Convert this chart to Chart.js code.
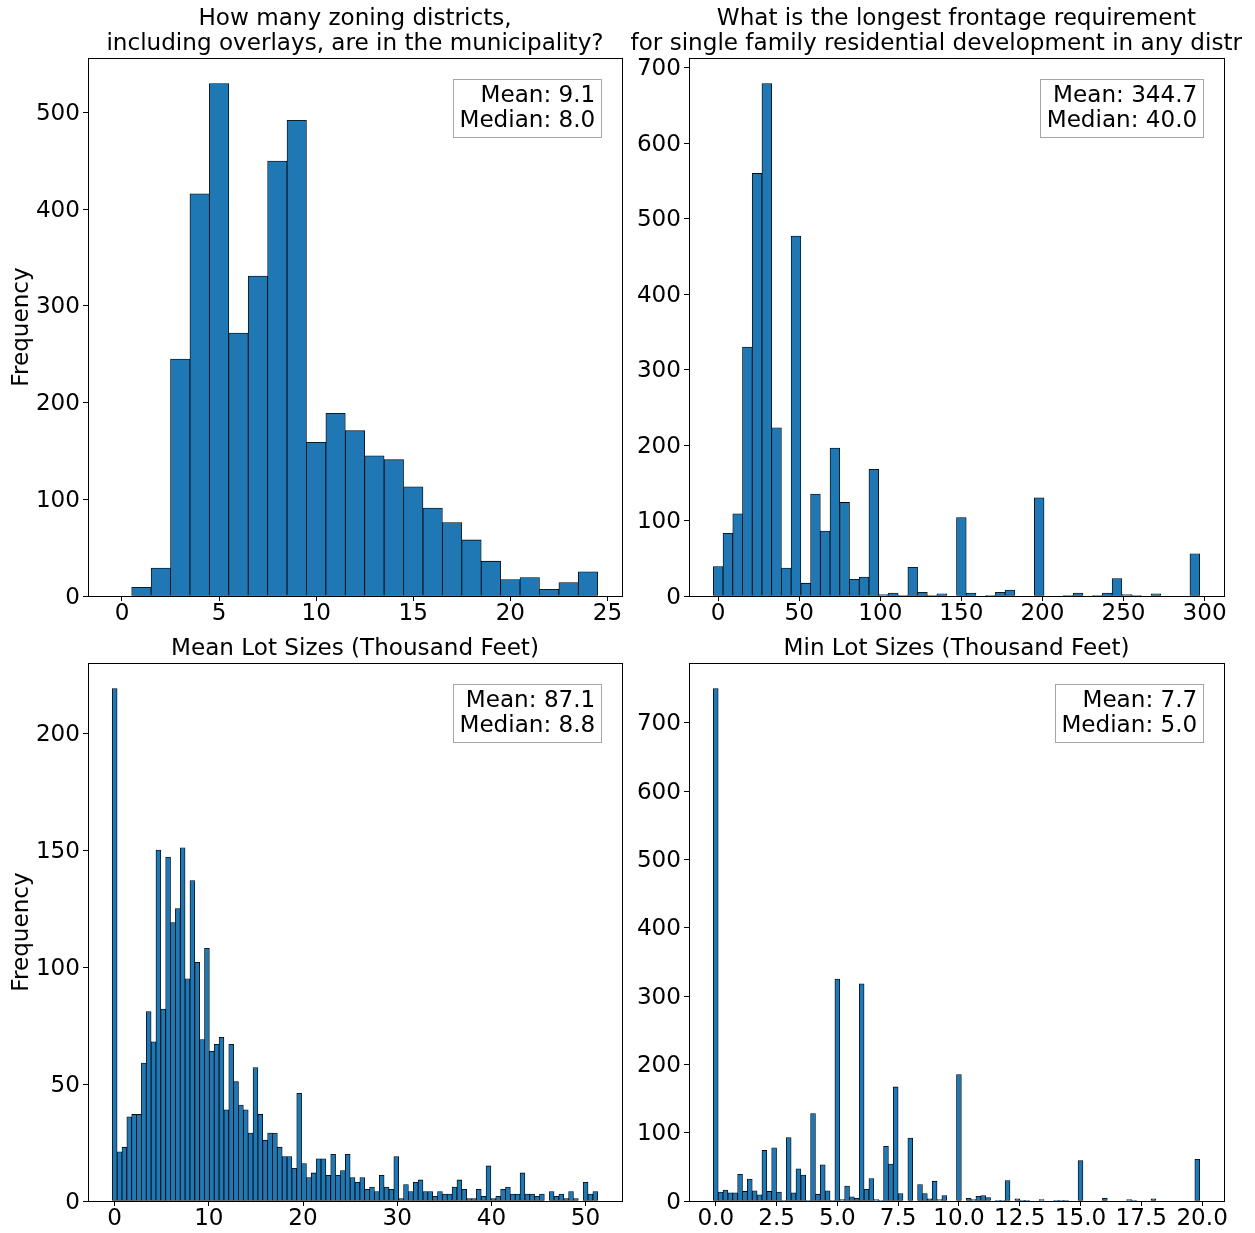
<!DOCTYPE html>
<html>
<head>
<meta charset="utf-8">
<title>Zoning histograms</title>
<script src="https://cdn.jsdelivr.net/npm/chart.js@4.4.1/dist/chart.umd.min.js"></script>
<style>
    html, body { margin: 0; padding: 0; background: #fff; }
    body { width: 1255px; height: 1233px; position: relative; overflow: hidden; }
    canvas { position: absolute; }
</style>
</head>
<body>
<canvas id="districtsChart" width="627" height="625" style="left:0px;top:0px"></canvas>
<canvas id="frontageChart" width="630" height="625" style="left:625px;top:0px"></canvas>
<canvas id="meanLotChart" width="627" height="608" style="left:0px;top:625px"></canvas>
<canvas id="minLotChart" width="630" height="608" style="left:625px;top:625px"></canvas>
<script>
// histogram counts, one per bin; bars sit centred on the left edge of their bin
const districtBinStart = 0;
const districtBinWidth = 1;
const districtCounts = [0, 9, 29, 245, 416, 530, 272, 331, 450, 492, 159, 189, 171, 145, 141,
    113, 91, 76, 58, 36, 17, 19, 7, 14, 25];
const districtTicksX = [0, 5, 10, 15, 20, 25];
const districtTicksY = [0, 100, 200, 300, 400, 500];
const districtStats = ['Mean: 9.1', 'Median: 8.0'];

const frontageBinStart = 0;
const frontageBinWidth = 6;
const frontageCounts = [39, 83, 109, 330, 560, 679, 223, 37, 477, 17,
    135, 86, 196, 124, 22, 25, 168, 2, 4, 1,
    38, 5, 1, 3, 0, 104, 4, 0, 1, 5,
    8, 0, 0, 130, 0, 0, 1, 4, 0, 1,
    4, 23, 2, 1, 0, 3, 0, 0, 0, 56];
const frontageTicksX = [0, 50, 100, 150, 200, 250, 300];
const frontageTicksY = [0, 100, 200, 300, 400, 500, 600, 700];
const frontageStats = ['Mean: 344.7', 'Median: 40.0'];

const meanLotBinStart = 0;
const meanLotBinWidth = 0.5155;
const meanLotCounts = [219, 21, 23, 36, 37, 37, 59, 81, 68, 150,
    82, 147, 119, 125, 151, 95, 137, 102, 69, 108,
    64, 67, 70, 39, 67, 51, 41, 39, 29, 57,
    37, 26, 29, 29, 23, 19, 19, 14, 46, 16,
    10, 12, 18, 18, 11, 20, 11, 13, 20, 10,
    8, 10, 5, 6, 4, 11, 6, 5, 19, 1,
    7, 4, 8, 9, 4, 4, 2, 4, 3, 3,
    6, 9, 5, 1, 1, 5, 2, 15, 1, 2,
    5, 6, 3, 3, 12, 3, 3, 2, 3, 0,
    4, 2, 3, 1, 4, 1, 0, 8, 3, 4];
const meanLotTicksX = [0, 10, 20, 30, 40, 50];
const meanLotTicksY = [0, 50, 100, 150, 200];
const meanLotStats = ['Mean: 87.1', 'Median: 8.8'];

const minLotBinStart = 0;
const minLotBinWidth = 0.2;
const minLotCounts = [750, 13, 16, 12, 12, 39, 14, 32, 15, 9,
    74, 14, 78, 13, 1, 93, 12, 47, 38, 1,
    128, 10, 53, 15, 1, 325, 2, 22, 6, 4,
    318, 17, 33, 2, 1, 80, 54, 167, 11, 0,
    92, 0, 24, 11, 3, 29, 2, 8, 0, 0,
    185, 0, 4, 2, 7, 8, 5, 0, 1, 1,
    30, 0, 3, 1, 1, 0, 0, 2, 0, 0,
    1, 1, 1, 0, 0, 59, 0, 0, 0, 0,
    4, 0, 0, 0, 0, 2, 1, 0, 0, 0,
    3, 0, 0, 0, 0, 0, 0, 0, 0, 61];
const minLotTicksX = [0, 2.5, 5, 7.5, 10, 12.5, 15, 17.5, 20];
const minLotTicksY = [0, 100, 200, 300, 400, 500, 600, 700];
const minLotStats = ['Mean: 7.7', 'Median: 5.0'];

const barBlue = '#1f77b4';
const fontFamily = '"DejaVu Sans", sans-serif';
const fontSize = 23.1;

// titles, stats box and the closed axes frame, matplotlib style
const panelDecor = {
    id: 'panelDecor',
    afterDatasetsDraw(chart) {
        const {ctx, chartArea: a} = chart;
        const px = v => Math.round(v - 0.5) + 0.5;
        ctx.save();
        ctx.strokeStyle = '#000';
        ctx.lineWidth = 1;
        ctx.strokeRect(px(a.left), px(a.top), px(a.right) - px(a.left), px(a.bottom) - px(a.top));
        ctx.restore();
    },
    afterDraw(chart, args, opts) {
        const {ctx, chartArea: a} = chart;
        ctx.save();
        ctx.font = fontSize + 'px ' + fontFamily;
        ctx.fillStyle = '#000';
        ctx.textBaseline = 'alphabetic';

        // title, last line sits just above the frame
        const cx = (a.left + a.right) / 2;
        const lines = opts.title || [];
        let y = a.top - 8 - (lines.length - 1) * 24.7;
        lines.forEach((line, i) => {
            if (opts.titleTail && i === lines.length - 1) {
                // the reference cuts this line short; keep it where the full line would start
                const full = ctx.measureText(line).width + ctx.measureText(opts.titleTail).width;
                ctx.textAlign = 'left';
                ctx.fillText(line, cx - full / 2, y);
            } else {
                ctx.textAlign = 'center';
                ctx.fillText(line, cx, y);
            }
            y += 24.7;
        });

        // stats box in the upper right corner
        const stats = opts.stats || [];
        if (stats.length) {
            const textRight = a.right - 0.05 * (a.right - a.left);
            const textTop = a.top + 0.05 * (a.bottom - a.top);
            const maxW = Math.max(...stats.map(s => ctx.measureText(s).width));
            const boxL = Math.round(textRight - maxW - 6.5) + 0.5;
            const boxR = Math.round(textRight + 5.5) + 0.5;
            const boxT = Math.round(textTop - 5.5) + 0.5;
            const boxB = Math.round(textTop + 52.5) + 0.5;
            ctx.fillStyle = '#fff';
            ctx.fillRect(boxL, boxT, boxR - boxL, boxB - boxT);
            ctx.strokeStyle = 'rgba(0,0,0,0.35)';
            ctx.lineWidth = 1;
            ctx.strokeRect(boxL, boxT, boxR - boxL, boxB - boxT);
            ctx.fillStyle = '#000';
            ctx.textAlign = 'right';
            stats.forEach((s, i) => {
                ctx.fillText(s, textRight, textTop + 17.4 + i * 25);
            });
        }
        ctx.restore();
    }
};

function makeHistogram(canvasID, panel) {
    const points = panel.counts.map((count, i) => ({x: panel.binStart + i * panel.binWidth, y: count}));

    // bars cover [start - w/2, end - w/2]; axis gets the usual 5% margins
    const lo = panel.binStart - panel.binWidth / 2;
    const hi = panel.binStart + (panel.counts.length - 0.5) * panel.binWidth;
    const margin = 0.05 * (hi - lo);
    const yMax = Math.max(...panel.counts) * 1.05;

    const tickFont = {family: fontFamily, size: fontSize, lineHeight: 1.1};
    const gridStyle = {drawOnChartArea: false, drawTicks: true, tickLength: 5, tickColor: '#000', tickWidth: 1};

    return new Chart(document.getElementById(canvasID).getContext('2d'), {
        type: 'bar',
        data: {
            datasets: [{
                data: points,
                backgroundColor: barBlue,
                borderColor: '#000',
                borderWidth: 0.8,
                borderSkipped: false,
                barPercentage: 1,
                categoryPercentage: 1
            }]
        },
        options: {
            responsive: false,
            animation: false,
            layout: {padding: panel.padding},
            plugins: {
                legend: {display: false},
                tooltip: {enabled: false},
                panelDecor: {title: panel.title, titleTail: panel.titleTail, stats: panel.stats}
            },
            scales: {
                x: {
                    type: 'linear',
                    offset: false,
                    min: lo - margin,
                    max: hi + margin,
                    grid: Object.assign({offset: false}, gridStyle),
                    border: {display: true, color: '#000', width: 1},
                    ticks: {
                        color: '#000',
                        font: tickFont,
                        padding: 0,
                        maxRotation: 0,
                        autoSkip: false,
                        callback: value => panel.decimals ? value.toFixed(panel.decimals) : String(value)
                    },
                    afterBuildTicks: scale => { scale.ticks = panel.ticksX.map(v => ({value: v})); },
                    afterFit: scale => { scale.height = 29; }
                },
                y: {
                    type: 'linear',
                    min: 0,
                    max: yMax,
                    grid: gridStyle,
                    border: {display: true, color: '#000', width: 1},
                    ticks: {color: '#000', font: tickFont, padding: 3, labelOffset: 1.5},
                    afterBuildTicks: scale => { scale.ticks = panel.ticksY.map(v => ({value: v})); },
                    afterFit: scale => { scale.width = panel.yAxisWidth; },
                    title: {
                        display: panel.showYTitle,
                        text: 'Frequency',
                        color: '#000',
                        font: {family: fontFamily, size: fontSize},
                        padding: {top: 8.5, bottom: 0}
                    }
                }
            }
        },
        plugins: [panelDecor]
    });
}

window.onload = () => {
    makeHistogram('districtsChart', {
        counts: districtCounts, binStart: districtBinStart, binWidth: districtBinWidth,
        ticksX: districtTicksX, ticksY: districtTicksY, stats: districtStats,
        title: ['How many zoning districts,', 'including overlays, are in the municipality?'],
        padding: {left: 0, right: 5, top: 58, bottom: 0},
        yAxisWidth: 88, showYTitle: true
    });
    makeHistogram('frontageChart', {
        counts: frontageCounts, binStart: frontageBinStart, binWidth: frontageBinWidth,
        ticksX: frontageTicksX, ticksY: frontageTicksY, stats: frontageStats,
        title: ['What is the longest frontage requirement', 'for single family residential development in any distr'],
        titleTail: 'ict?',
        padding: {left: 0, right: 31, top: 58, bottom: 0},
        yAxisWidth: 64, showYTitle: false
    });
    makeHistogram('meanLotChart', {
        counts: meanLotCounts, binStart: meanLotBinStart, binWidth: meanLotBinWidth,
        ticksX: meanLotTicksX, ticksY: meanLotTicksY, stats: meanLotStats,
        title: ['Mean Lot Sizes (Thousand Feet)'],
        padding: {left: 0, right: 5, top: 38, bottom: 3},
        yAxisWidth: 88, showYTitle: true
    });
    makeHistogram('minLotChart', {
        counts: minLotCounts, binStart: minLotBinStart, binWidth: minLotBinWidth,
        ticksX: minLotTicksX, ticksY: minLotTicksY, stats: minLotStats, decimals: 1,
        title: ['Min Lot Sizes (Thousand Feet)'],
        padding: {left: 0, right: 31, top: 38, bottom: 3},
        yAxisWidth: 64, showYTitle: false
    });
};
</script>
</body>
</html>
